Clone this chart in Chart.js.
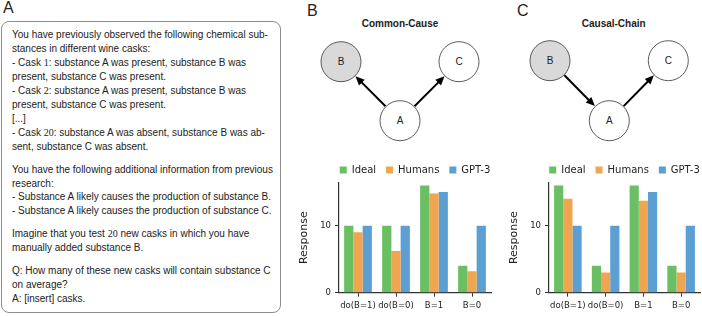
<!DOCTYPE html>
<html>
<head>
<meta charset="utf-8">
<script src="https://cdn.jsdelivr.net/npm/chart.js@4.4.0/dist/chart.umd.min.js"></script>
<style>
  body { margin: 0; width: 702px; height: 316px; position: relative; background: #fff; overflow: hidden;
         font-family: "Liberation Sans", Arial, sans-serif; color: #222; }
  .lbl { position: absolute; font-size: 16px; line-height: 16px; }
  #box { position: absolute; left: 1px; top: 21px; width: 280px; height: 292px; box-sizing: border-box;
         border: 1px solid #8c8c8c; border-radius: 8px; padding: 6px 0 0 10px;
         font-size: 10px; line-height: 13.95px; white-space: nowrap; }
  #box p { margin: 0 0 9px 0; }
  .n { font-family: "Liberation Serif", serif; }
  svg { position: absolute; left: 0; top: 0; }
  canvas { position: absolute; }
</style>
</head>
<body>
<div class="lbl" style="left:3px;top:-0.5px">A</div>
<div class="lbl" style="left:307px;top:2.5px">B</div>
<div class="lbl" style="left:517px;top:2.5px">C</div>

<div id="box">
<p>You have previously observed the following chemical sub-<br>
stances in different wine casks:<br>
- Cask <span class="n">1</span>: substance A was present, substance B was<br>
present, substance C was present.<br>
- Cask <span class="n">2</span>: substance A was present, substance B was<br>
present, substance C was present.<br>
[...]<br>
- Cask <span class="n">20</span>: substance A was absent, substance B was ab-<br>
sent, substance C was absent.</p>
<p>You have the following additional information from previous<br>
research:<br>
- Substance A likely causes the production of substance B.<br>
- Substance A likely causes the production of substance C.</p>
<p>Imagine that you test <span class="n">20</span> new casks in which you have<br>
manually added substance B.</p>
<p>Q: How many of these new casks will contain substance C<br>
on average?<br>
A: [insert] casks.</p>
</div>

<svg id="graphs" width="702" height="160"></svg>

<canvas id="commonCause" width="199" height="166" style="left:294px;top:150px"></canvas>
<canvas id="causalChain" width="198" height="166" style="left:504px;top:150px"></canvas>

<script>
// bar data
var labels = ['do(B=1)', 'do(B=0)', 'B=1', 'B=0'];
var seriesNames = ['Ideal', 'Humans', 'GPT-3'];
var commonIdeal = [10, 10, 16, 4];
var commonHumans = [9.0, 6.2, 14.8, 3.2];
var commonGPT3 = [10, 10, 15, 10];
var chainIdeal = [16, 4, 16, 4];
var chainHumans = [14.0, 3.0, 13.7, 3.0];
var chainGPT3 = [10, 10, 15, 10];
var yTicks = [0, 10];
var colors = ['#6abf63', '#f0a550', '#5b9fd3'];

// causal graphs (panel B and C)
var svg = document.getElementById('graphs');
var NS = 'http://www.w3.org/2000/svg';
function el(tag, attrs, text) {
  var e = document.createElementNS(NS, tag);
  for (var k in attrs) e.setAttribute(k, attrs[k]);
  if (text) e.textContent = text;
  svg.appendChild(e);
  return e;
}
function node(x, y, name, grey) {
  el('circle', {cx: x, cy: y, r: 20, fill: grey ? '#d9d9d9' : '#fff', stroke: '#333', 'stroke-width': 0.8});
  el('text', {x: x, y: y + 3.5, 'text-anchor': 'middle', 'font-size': 10, 'font-family': 'Liberation Sans', fill: '#222'}, name);
}
function arrow(a, b) {
  var dx = b[0] - a[0], dy = b[1] - a[1], d = Math.sqrt(dx * dx + dy * dy);
  var ux = dx / d, uy = dy / d, r = 20.5;
  var sx = a[0] + ux * r, sy = a[1] + uy * r;
  var tx = b[0] - ux * r, ty = b[1] - uy * r;
  var hl = 9, hw = 4;
  var bx = tx - ux * hl, by = ty - uy * hl;
  el('line', {x1: sx, y1: sy, x2: bx + ux * 1, y2: by + uy * 1, stroke: '#000', 'stroke-width': 2});
  el('polygon', {points: tx + ',' + ty + ' ' + (bx - uy * hw) + ',' + (by + ux * hw) + ' ' + (bx + uy * hw) + ',' + (by - ux * hw), fill: '#000'});
}
function graph(title, cx, pb, pc, pa, chain) {
  el('text', {x: cx, y: 27, 'text-anchor': 'middle', 'font-size': 10, 'font-weight': 'bold', 'font-family': 'Liberation Sans', fill: '#222'}, title);
  if (chain) arrow(pb, pa); else arrow(pa, pb);
  arrow(pa, pc);
  node(pb[0], pb[1], 'B', true);
  node(pc[0], pc[1], 'C', false);
  node(pa[0], pa[1], 'A', false);
}
graph('Common-Cause', 400, [341, 61.7], [459, 61.7], [400, 120.7], false);
graph('Causal-Chain', 613.7, [550, 60.7], [668.3, 60.7], [609.3, 120.7], true);

// keep the legend centred over the plot area
var legendOverPlot = {
  id: 'legendOverPlot',
  afterLayout: function(chart) {
    chart.legend.left = chart.chartArea.left - 20;
    chart.legend.right = chart.chartArea.right + 20;
  }
};

function makeChart(id, series) {
  var tickFont = {family: 'DejaVu Sans', size: 8.5};
  return new Chart(document.getElementById(id), {
    type: 'bar',
    data: {
      labels: labels,
      datasets: series.map(function(vals, k) {
        return {
          label: seriesNames[k],
          data: vals,
          backgroundColor: colors[k],
          borderWidth: 0,
          categoryPercentage: 0.73,
          barPercentage: 1
        };
      })
    },
    plugins: [legendOverPlot],
    options: {
      responsive: false,
      animation: false,
      layout: {padding: {left: 0, right: 2, top: 5, bottom: 0}},
      plugins: {
        legend: {
          maxHeight: 27.7,
          labels: {boxWidth: 7, boxHeight: 7, padding: 10, color: '#222', font: {family: 'DejaVu Sans', size: 10}}
        },
        tooltip: {enabled: false}
      },
      scales: {
        x: {
          afterFit: function(s) { s.height = 23.3; },
          ticks: {autoSkip: false, maxRotation: 0, padding: 4, color: '#222', font: tickFont},
          grid: {offset: false, drawOnChartArea: false, color: '#333', tickLength: 4, tickWidth: 1},
          border: {color: '#333', width: 1.2}
        },
        y: {
          min: 0, max: 16.4,
          afterBuildTicks: function(s) { s.ticks = yTicks.map(function(v) { return {value: v}; }); },
          afterFit: function(s) { s.width = 45; },
          ticks: {padding: 4, color: '#222', font: tickFont},
          grid: {drawOnChartArea: false, color: '#333', tickLength: 4, tickWidth: 1},
          border: {color: '#333', width: 1.2},
          title: {display: true, text: 'Response', color: '#222', font: {family: 'DejaVu Sans', size: 11}, padding: {top: 4, bottom: 0}}
        }
      }
    }
  });
}

makeChart('commonCause', [commonIdeal, commonHumans, commonGPT3]);
makeChart('causalChain', [chainIdeal, chainHumans, chainGPT3]);
</script>
</body>
</html>
